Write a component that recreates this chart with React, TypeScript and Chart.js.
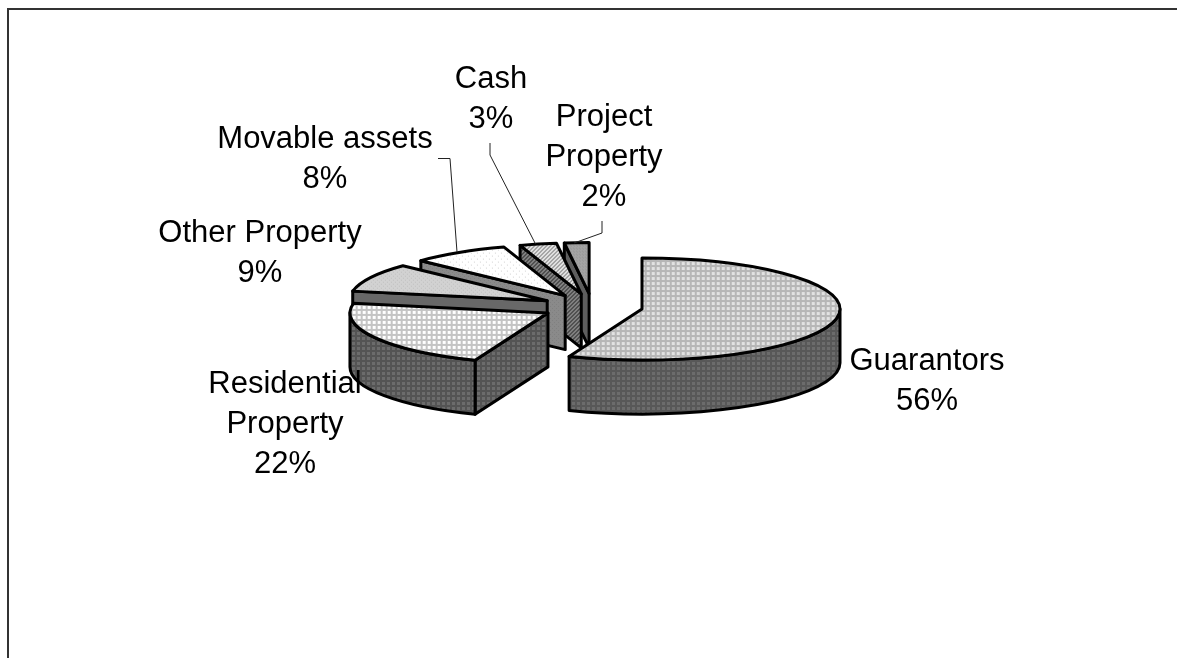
import React, { useEffect, useRef } from "react";
import { Chart, registerables } from "chart.js";

Chart.register(...registerables);

const categories = ["Guarantors", "Residential Property", "Other Property", "Movable assets", "Cash", "Project Property"];
const shares = [56, 22, 9, 8, 3, 2];
const labelLines = [
  ["Guarantors", "56%"],
  ["Residential", "Property", "22%"],
  ["Other Property", "9%"],
  ["Movable assets", "8%"],
  ["Cash", "3%"],
  ["Project", "Property", "2%"],
];
const labelAnchors = [
  [927, 361],
  [285, 384],
  [260, 233],
  [325, 139],
  [491, 79],
  [604, 117],
];
const labelLineGap = 40;
const leaders = [
  null,
  null,
  null,
  [[438, 158.5], [450, 158.5], [457, 252]],
  [[490, 143], [490, 155], [535.5, 244]],
  [[602, 221], [602, 233], [574, 243]],
];

const SQUASH = 0.2576;
const EXPLODE = 50.6;
const DEPTH = 54;
const RADIUS = 198;

type TileDef = { size: number; bg: string; fg: string; kind: "grid" | "dots" | "diag" | "solid"; w?: number };

const topTiles: TileDef[] = [
  { size: 5, bg: "#e2e2e2", fg: "#b6b6b6", kind: "grid", w: 2 },
  { size: 5, bg: "#ffffff", fg: "#c4c4c4", kind: "grid", w: 2 },
  { size: 4, bg: "#d2d2d2", fg: "#c0c0c0", kind: "dots" },
  { size: 6, bg: "#ffffff", fg: "#d4d4d4", kind: "dots" },
  { size: 4, bg: "#e2e2e2", fg: "#a4a4a4", kind: "diag" },
  { size: 3, bg: "#a4a4a4", fg: "#949494", kind: "dots" },
];
const wallTiles: TileDef[] = [
  { size: 5, bg: "#6c6c6c", fg: "#585858", kind: "grid", w: 2 },
  { size: 5, bg: "#6c6c6c", fg: "#545454", kind: "grid", w: 2 },
  { size: 4, bg: "#686868", fg: "#686868", kind: "solid" },
  { size: 4, bg: "#8a8a8a", fg: "#808080", kind: "dots" },
  { size: 4, bg: "#808080", fg: "#505050", kind: "diag" },
  { size: 4, bg: "#5e5e5e", fg: "#5e5e5e", kind: "solid" },
];

function makePattern(ctx: CanvasRenderingContext2D, t: TileDef): CanvasPattern {
  const c = document.createElement("canvas");
  c.width = t.size;
  c.height = t.size;
  const g = c.getContext("2d")!;
  g.fillStyle = t.bg;
  g.fillRect(0, 0, t.size, t.size);
  g.fillStyle = t.fg;
  if (t.kind === "grid") {
    const w = t.w ?? 1;
    g.fillRect(0, 0, w, t.size);
    g.fillRect(0, 0, t.size, w);
  } else if (t.kind === "dots") {
    g.fillRect(0, 0, 1, 1);
    g.fillRect(Math.floor(t.size / 2), Math.floor(t.size / 2), 1, 1);
  } else if (t.kind === "diag") {
    for (let i = 0; i < t.size; i++) {
      g.fillRect(i, (t.size - 1 - i) % t.size, 1, 1);
      g.fillRect(i, (t.size - i) % t.size, 1, 1);
    }
  }
  return ctx.createPattern(c, "repeat")!;
}

function makeTopPattern(ctx: CanvasRenderingContext2D, t: TileDef): CanvasPattern {
  const p = makePattern(ctx, t);
  p.setTransform(new DOMMatrix().scale(1, 1 / SQUASH));
  return p;
}

function pie3dPlugin(wallPatterns: CanvasPattern[]) {
  return {
    id: "pie3d",
    beforeDraw(chart: any) {
      const { ctx, width, height } = chart;
      ctx.save();
      ctx.fillStyle = "#ffffff";
      ctx.fillRect(0, 0, width, height);
      ctx.strokeStyle = "#333333";
      ctx.lineWidth = 2;
      ctx.beginPath();
      ctx.moveTo(8, height);
      ctx.lineTo(8, 9);
      ctx.lineTo(width, 9);
      ctx.stroke();
      ctx.restore();
    },
    beforeDatasetsDraw(chart: any) {
      const ctx: CanvasRenderingContext2D = chart.ctx;
      const arcs = chart.getDatasetMeta(0).data;
      ctx.save();
      ctx.lineWidth = 3;
      ctx.lineJoin = "round";
      ctx.strokeStyle = "#000000";
      for (let i = arcs.length - 1; i >= 0; i--) {
        const arc = arcs[i];
        const { x, y, startAngle: a0, endAngle: a1, outerRadius: R } = arc;
        const mid = (a0 + a1) / 2;
        const cx = x + Math.cos(mid) * EXPLODE;
        const cy = y + Math.sin(mid) * EXPLODE * SQUASH;
        const ry = R * SQUASH;
        ctx.fillStyle = wallPatterns[i];
        const face = (a: number) => {
          const px = cx + Math.cos(a) * R;
          const py = cy + Math.sin(a) * ry;
          ctx.beginPath();
          ctx.moveTo(cx, cy);
          ctx.lineTo(px, py);
          ctx.lineTo(px, py + DEPTH);
          ctx.lineTo(cx, cy + DEPTH);
          ctx.closePath();
          ctx.fill();
          ctx.stroke();
        };
        if (Math.cos(a0) < -1e-6) face(a0);
        if (Math.cos(a1) > 1e-6) face(a1);
        const from = Math.max(a0, 0);
        const to = Math.min(a1, Math.PI);
        if (to > from) {
          ctx.beginPath();
          ctx.ellipse(cx, cy, R, ry, 0, from, to);
          ctx.lineTo(cx + Math.cos(to) * R, cy + Math.sin(to) * ry + DEPTH);
          ctx.ellipse(cx, cy + DEPTH, R, ry, 0, to, from, true);
          ctx.closePath();
          ctx.fill();
          ctx.stroke();
        }
        ctx.save();
        ctx.translate(cx, cy);
        ctx.scale(1, SQUASH);
        ctx.translate(-x, -y);
        arc.draw(ctx);
        ctx.restore();
        ctx.beginPath();
        ctx.moveTo(cx, cy);
        ctx.ellipse(cx, cy, R, ry, 0, a0, a1);
        ctx.closePath();
        ctx.stroke();
      }
      ctx.restore();
      return false;
    },
    afterDraw(chart: any) {
      const ctx: CanvasRenderingContext2D = chart.ctx;
      ctx.save();
      ctx.strokeStyle = "#222222";
      ctx.lineWidth = 1;
      leaders.forEach((pts) => {
        if (!pts) return;
        ctx.beginPath();
        pts.forEach(([px, py], k) => (k ? ctx.lineTo(px, py) : ctx.moveTo(px, py)));
        ctx.stroke();
      });
      ctx.fillStyle = "#000000";
      ctx.font = '31px "Liberation Sans"';
      ctx.textAlign = "center";
      ctx.textBaseline = "middle";
      labelLines.forEach((lines, i) => {
        lines.forEach((line, k) => {
          ctx.fillText(line, labelAnchors[i][0], labelAnchors[i][1] + k * labelLineGap);
        });
      });
      ctx.restore();
    },
  };
}

export default function App() {
  const ref = useRef<HTMLCanvasElement>(null);
  useEffect(() => {
    const canvas = ref.current!;
    const ctx = canvas.getContext("2d")!;
    const chart = new Chart(canvas, {
      type: "pie",
      data: {
        labels: categories,
        datasets: [
          {
            data: shares,
            backgroundColor: topTiles.map((t) => makeTopPattern(ctx, t)),
            borderWidth: 0,
          },
        ],
      },
      options: {
        responsive: false,
        animation: false,
        radius: RADIUS,
        events: [],
        layout: { padding: { left: 7.6, bottom: 44.8 } },
        plugins: { legend: { display: false }, tooltip: { enabled: false } },
      } as any,
      plugins: [pie3dPlugin(wallTiles.map((t) => makePattern(ctx, t)))],
    });
    return () => chart.destroy();
  }, []);
  return (
    <canvas
      ref={ref}
      width={1177}
      height={658}
      style={{ position: "absolute", left: 0, top: 0, width: 1177, height: 658, display: "block" }}
    />
  );
}
